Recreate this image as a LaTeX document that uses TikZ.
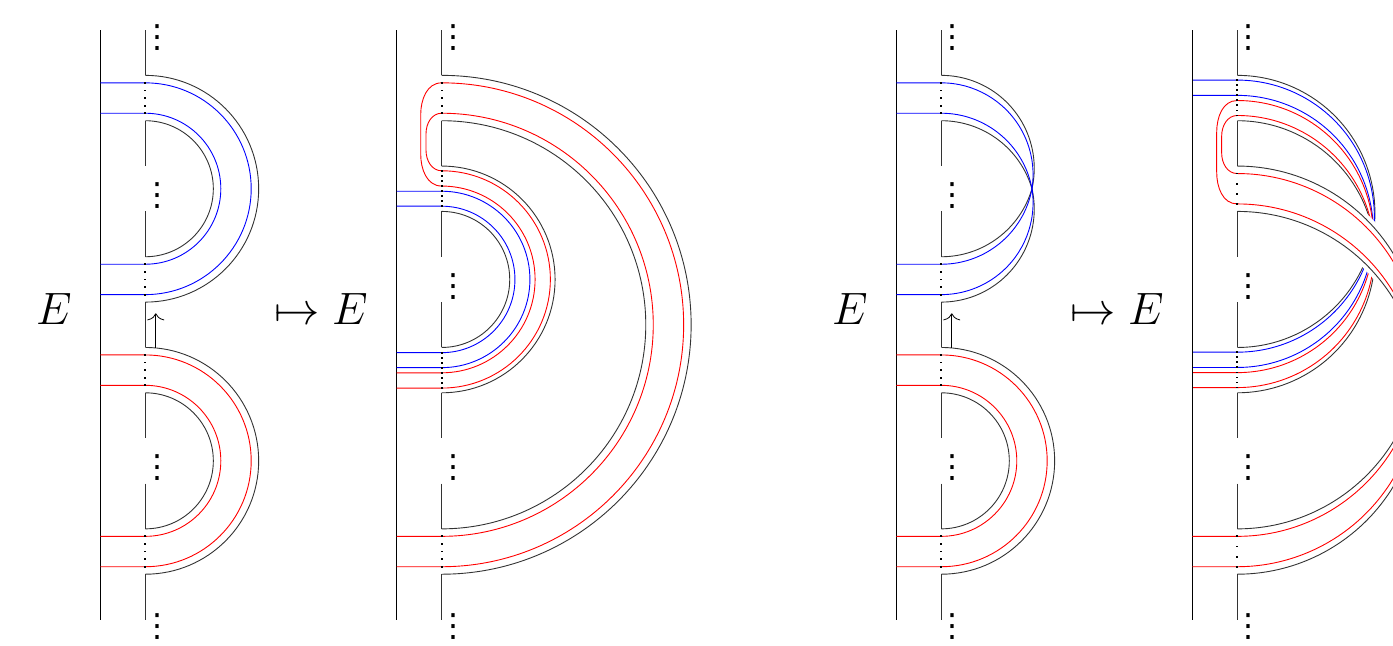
\RequirePackage{fix-cm}
\documentclass[tikz,border=0pt]{standalone}
\usepackage{fontspec}
\newfontfamily\dvs{DejaVu Sans}
\usetikzlibrary{arrows.meta}
\newcommand\myvd{{\dvs\fontsize{32}{32}\selectfont ⋮}}
\newcommand\upA[2]{arc[start angle=90,end angle={PA(#1,#2)},radius={PR(#1,#2)}]}
\newcommand\loA[2]{arc[start angle={-PA(#1,#2)},end angle=-90,radius={PR(#1,#2)}]}
\newcommand\dotcol[3]{\foreach \i in {1,...,#3}{\fill (0,{#1+(#2-#1)*(\i-1)/(#3-1)}) ++(-0.9pt,-0.9pt) rectangle ++(1.8pt,1.8pt);}}
\newcommand\pbase[3]{%
  \draw[lft] (-0.992,0) -- (-0.992,-13);
  \foreach \a/\b in {0/1,2/3,4/5,6/7,8/9,10/11,12/13} \draw[bk] (0,-\a) -- (0,-\b);
  \node[vd] (#1t) at (0.258,-0.161) {\myvd};
  \node[vd] (#1b) at (0.258,-13.158) {\myvd};
  \node[vd] (#1g) at (0.258,{-#2-0.654}) {\myvd};
  \node[vd] (#1h) at (0.258,{-#3-0.654}) {\myvd};}
\begin{document}
\begin{tikzpicture}[x=45.35pt,y=45.35pt,
  declare function={PR(\p,\q)=(\q*\q+\p*\p)/(2*\p);PA(\p,\q)=atan2(PR(\p,\q)-\p,\q);},
  bk/.style={draw=black!80,line width=0.9pt},
  lft/.style={draw=black,line width=0.8pt},
  bl/.style={draw=blue,line width=0.9pt},
  rd/.style={draw=red,line width=0.9pt},
  lbl/.style={inner sep=0pt,font=\fontsize{45.35}{54}\selectfont},
  vd/.style={inner sep=0pt},
  arr/.style={draw=black,line width=0.8pt,-{Computer Modern Rightarrow[length=7pt,width=17pt]}},
  wb/.style={fill=white,draw=white,line width=9pt,line join=round}]
\useasboundingbox (0,0) rectangle (30.717,14.223);
\clip (0,0) rectangle (30.717,14.223);
% labels
\node[lbl,anchor=base] (e1) at (1.191,7.072) {$E$};
\node[lbl,anchor=base west] (m1) at (6.042,7.072) {$\mapsto E$};
\node[lbl,anchor=base] (e3) at (18.743,7.072) {$E$};
\node[lbl,anchor=base west] (m3) at (23.594,7.072) {$\mapsto E$};
% ---------------- panel 1
\begin{scope}[shift={(3.204,13.561)}]
\pbase{pa}{3}{9}
\draw[bk] (0,-1) arc[start angle=90,end angle=-90,radius=2.5];
\draw[bk] (0,-2) arc[start angle=90,end angle=-90,radius=1.5];
\draw[bl] (-0.992,-1.165) -- (0,-1.165) arc[start angle=90,end angle=-90,radius=2.335] -- (-0.992,-5.835);
\draw[bl] (-0.992,-1.835) -- (0,-1.835) arc[start angle=90,end angle=-90,radius=1.665] -- (-0.992,-5.165);
\dotcol{-1.165}{-1.835}{5}
\dotcol{-5.165}{-5.835}{5}
\draw[bk] (0,-7) arc[start angle=90,end angle=-90,radius=2.5];
\draw[bk] (0,-8) arc[start angle=90,end angle=-90,radius=1.5];
\draw[rd] (-0.992,-7.165) -- (0,-7.165) arc[start angle=90,end angle=-90,radius=2.335] -- (-0.992,-11.835);
\draw[rd] (-0.992,-7.835) -- (0,-7.835) arc[start angle=90,end angle=-90,radius=1.665] -- (-0.992,-11.165);
\dotcol{-7.165}{-7.835}{5}
\dotcol{-11.165}{-11.835}{5}
\coordinate (pa0) at (0.2315,-7.01);
\coordinate (pa1) at (0.2315,-6.247);
\draw[arr] (pa0) -- (pa1);
\end{scope}
% ---------------- panel 2
\begin{scope}[shift={(9.740,13.561)}]
\pbase{pb}{5}{9}
\draw[bk] (0,-1) arc[start angle=90,end angle=-90,radius=5.5];
\draw[bk] (0,-2) arc[start angle=90,end angle=-90,radius=4.5];
\draw[bk] (0,-3) arc[start angle=90,end angle=-90,radius=2.5];
\draw[bk] (0,-4) arc[start angle=90,end angle=-90,radius=1.5];
\draw[rd] (-0.992,-11.835) -- (0,-11.835) arc[start angle=-90,end angle=90,radius=5.335]
  to[out=180,in=90] (-0.463,-1.865) -- (-0.463,-2.741) to[out=-90,in=180] (0,-3.441)
  arc[start angle=90,end angle=-90,radius=2.059] -- (-0.992,-7.559);
\draw[rd] (-0.992,-11.165) -- (0,-11.165) arc[start angle=-90,end angle=90,radius=4.665]
  to[out=180,in=90] (-0.346,-2.285) -- (-0.346,-2.654) to[out=-90,in=180] (0,-3.104)
  arc[start angle=90,end angle=-90,radius=2.396] -- (-0.992,-7.896);
\draw[bl] (-0.992,-3.555) -- (0,-3.555) arc[start angle=90,end angle=-90,radius=1.945] -- (-0.992,-7.445);
\draw[bl] (-0.992,-3.885) -- (0,-3.885) arc[start angle=90,end angle=-90,radius=1.615] -- (-0.992,-7.115);
\dotcol{-1.165}{-1.835}{5}
\dotcol{-3.104}{-3.885}{8}
\dotcol{-7.115}{-7.896}{8}
\dotcol{-11.165}{-11.835}{5}
\end{scope}
% ---------------- panel 3
\begin{scope}[shift={(20.756,13.561)}]
\pbase{pc}{3}{9}
\draw[bk] (0,-1) \upA{2.5}{2} \loA{2.5}{2};
\draw[bk] (0,-2) \upA{1.5}{2} \loA{1.5}{2};
\draw[bl] (-0.992,-1.165) -- (0,-1.165) \upA{2.335}{2} \loA{2.335}{2} -- (-0.992,-5.835);
\draw[bl] (-0.992,-1.835) -- (0,-1.835) \upA{1.665}{2} \loA{1.665}{2} -- (-0.992,-5.165);
\dotcol{-1.165}{-1.835}{5}
\dotcol{-5.165}{-5.835}{5}
\draw[bk] (0,-7) arc[start angle=90,end angle=-90,radius=2.5];
\draw[bk] (0,-8) arc[start angle=90,end angle=-90,radius=1.5];
\draw[rd] (-0.992,-7.165) -- (0,-7.165) arc[start angle=90,end angle=-90,radius=2.335] -- (-0.992,-11.835);
\draw[rd] (-0.992,-7.835) -- (0,-7.835) arc[start angle=90,end angle=-90,radius=1.665] -- (-0.992,-11.165);
\dotcol{-7.165}{-7.835}{5}
\dotcol{-11.165}{-11.835}{5}
\coordinate (pc0) at (0.2315,-7.01);
\coordinate (pc1) at (0.2315,-6.247);
\draw[arr] (pc0) -- (pc1);
\end{scope}
% ---------------- panel 4
\begin{scope}[shift={(27.283,13.561)}]
% band A (passes under)
\draw[bk] (0,-1) \upA{3.5}{3} \loA{3.5}{3};
\draw[bk] (0,-2) \upA{2.5}{3} \loA{2.5}{3};
\draw[bl] (-0.992,-1.104) -- (0,-1.104) \upA{3.396}{3};
\draw[bl] (-0.992,-1.441) -- (0,-1.441) \upA{3.059}{3};
\draw[rd] (0,-1.555) \upA{2.945}{3};
\draw[rd] (0,-1.885) \upA{2.615}{3};
\draw[bl] (3,-4.5) \loA{2.604}{3} -- (-0.992,-7.104);
\draw[bl] (3,-4.5) \loA{2.941}{3} -- (-0.992,-7.441);
\draw[rd] (3,-4.5) \loA{3.055}{3} -- (-0.992,-7.555);
\draw[rd] (3,-4.5) \loA{3.385}{3} -- (-0.992,-7.885);
% gap for crossing
\path[wb] (0,-3) \upA{4.5}{4} arc[start angle={PA(3.5,4)},end angle=90,radius={PR(3.5,4)}] -- cycle;
\pbase{pd}{5}{9}
% band B (over)
\draw[bk] (0,-3) \upA{4.5}{4} \loA{4.5}{4};
\draw[bk] (0,-4) \upA{3.5}{4} \loA{3.5}{4};
\draw[rd] (0,-1.555) to[out=180,in=90] (-0.454,-2.255) -- (-0.454,-3.135) to[out=-90,in=180] (0,-3.835) \upA{3.665}{4};
\draw[rd] (0,-1.885) to[out=180,in=90] (-0.344,-2.335) -- (-0.344,-2.715) to[out=-90,in=180] (0,-3.165) \upA{4.335}{4};
\draw[rd] (4,-7.5) \loA{4.335}{4} -- (-0.992,-11.835);
\draw[rd] (4,-7.5) \loA{3.665}{4} -- (-0.992,-11.165);
\dotcol{-1.104}{-1.885}{8}
\dotcol{-3.165}{-3.835}{4}
\dotcol{-7.104}{-7.885}{8}
\dotcol{-11.165}{-11.835}{4}
\end{scope}
\end{tikzpicture}
\end{document}
